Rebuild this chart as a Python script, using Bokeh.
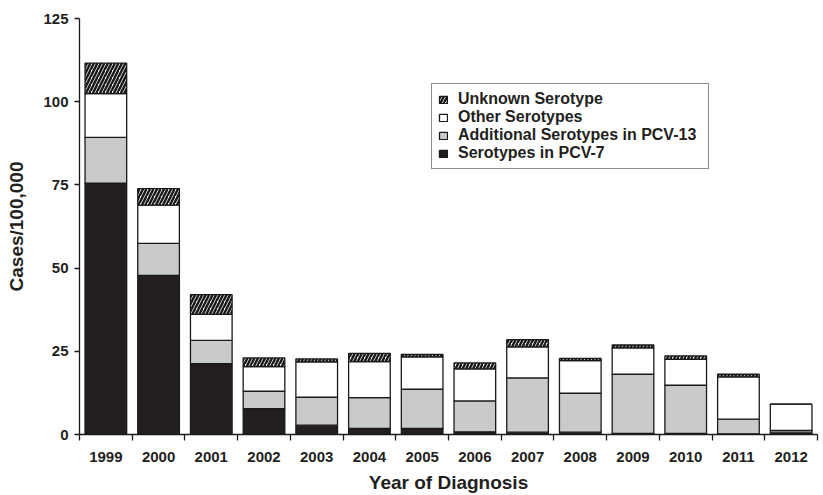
from bokeh.plotting import figure
from bokeh.models import FixedTicker, Legend, LegendItem, Range1d, ColumnDataSource
from bokeh.embed import file_html
from bokeh.resources import INLINE

years = ["1999", "2000", "2001", "2002", "2003", "2004", "2005", "2006",
         "2007", "2008", "2009", "2010", "2011", "2012"]
pcv7 = [75.5, 47.8, 21.3, 7.8, 2.8, 1.8, 1.8, 0.8, 0.7, 0.7, 0.3, 0.3, 0.2, 0.5]
additional = [13.8, 9.6, 7.0, 5.2, 8.4, 9.3, 11.8, 9.3, 16.3, 11.7, 17.8, 14.5, 4.4, 0.7]
other = [13.1, 11.5, 7.8, 7.4, 10.6, 10.8, 9.7, 9.6, 9.3, 9.8, 7.9, 7.8, 12.7, 7.9]
unknown = [9.2, 5.0, 5.9, 2.6, 0.9, 2.5, 0.8, 1.8, 2.2, 0.7, 0.9, 1.0, 0.8, 0.0]
y_ticks = [0, 25, 50, 75, 100, 125]

x = list(range(1, len(years) + 1))
b1 = pcv7
b2 = [a + b for a, b in zip(b1, additional)]
b3 = [a + b for a, b in zip(b2, other)]
b4 = [a + b for a, b in zip(b3, unknown)]
src = ColumnDataSource(dict(x=x, b0=[0] * len(x), b1=b1, b2=b2, b3=b3, b4=b4))

FONT = "Liberation Sans"
TXT = "#231f20"
LINE = "#1a1a1a"

p = figure(frame_width=738, frame_height=416, output_backend="svg",
           toolbar_location=None, min_border_left=79, min_border_top=18,
           min_border_bottom=58, min_border_right=2,
           x_range=Range1d(0.5, len(years) + 0.5), y_range=Range1d(0, 125))
p.outline_line_color = None
p.xgrid.visible = False
p.ygrid.visible = False
p.background_fill_color = "white"

common = dict(x="x", width=0.79, source=src, line_color=LINE, line_width=1.3)
r1 = p.vbar(bottom="b0", top="b1", fill_color="#231f20", **common)
r2 = p.vbar(bottom="b1", top="b2", fill_color="#c9cacb", **common)
r3 = p.vbar(bottom="b2", top="b3", fill_color="white", **common)
r4 = p.vbar(bottom="b3", top="b4", fill_color="white", hatch_pattern="/",
            hatch_color=LINE, hatch_scale=7, hatch_weight=2.5, **common)

# x axis
xa = p.xaxis[0]
xa.ticker = FixedTicker(ticks=x, minor_ticks=[i + 0.5 for i in range(0, len(years) + 1)])
xa.major_label_overrides = {i: y for i, y in zip(x, years)}
xa.major_tick_line_color = None
xa.minor_tick_in = 0
xa.minor_tick_out = 6
xa.minor_tick_line_color = LINE
xa.minor_tick_line_width = 1.3
xa.axis_line_color = LINE
xa.axis_line_width = 1.3
xa.major_label_standoff = 11
xa.major_label_text_font = FONT
xa.major_label_text_font_style = "bold"
xa.major_label_text_font_size = "15px"
xa.major_label_text_color = TXT
xa.axis_label = "Year of Diagnosis"
xa.axis_label_text_font = FONT
xa.axis_label_text_font_style = "bold"
xa.axis_label_text_font_size = "19px"
xa.axis_label_text_color = TXT
xa.axis_label_standoff = 7

ya = p.yaxis[0]
ya.ticker = FixedTicker(ticks=y_ticks, minor_ticks=[])
ya.major_tick_in = 0
ya.major_tick_out = 5
ya.major_tick_line_color = LINE
ya.major_tick_line_width = 1.3
ya.axis_line_color = LINE
ya.axis_line_width = 1.3
ya.major_label_standoff = 6
ya.major_label_text_font = FONT
ya.major_label_text_font_style = "bold"
ya.major_label_text_font_size = "15px"
ya.major_label_text_color = TXT
ya.axis_label = "Cases/100,000"
ya.axis_label_text_font = FONT
ya.axis_label_text_font_style = "bold"
ya.axis_label_text_font_size = "19px"
ya.axis_label_text_color = TXT
ya.axis_label_standoff = 13

legend = Legend(items=[
    LegendItem(label="Unknown Serotype", renderers=[r4]),
    LegendItem(label="Other Serotypes", renderers=[r3]),
    LegendItem(label="Additional Serotypes in PCV-13", renderers=[r2]),
    LegendItem(label="Serotypes in PCV-7", renderers=[r1]),
], location=(352, 265))
legend.border_line_color = LINE
legend.border_line_width = 1
legend.background_fill_alpha = 1
legend.padding = 6
legend.margin = 0
legend.spacing = 0
legend.label_height = 18
legend.label_width = 244
legend.glyph_height = 9
legend.glyph_width = 10
legend.label_standoff = 10
legend.label_text_font = FONT
legend.label_text_font_style = "bold"
legend.label_text_font_size = "16px"
legend.label_text_color = TXT
p.add_layout(legend)

open("out.html", "w").write(file_html(p, INLINE))
